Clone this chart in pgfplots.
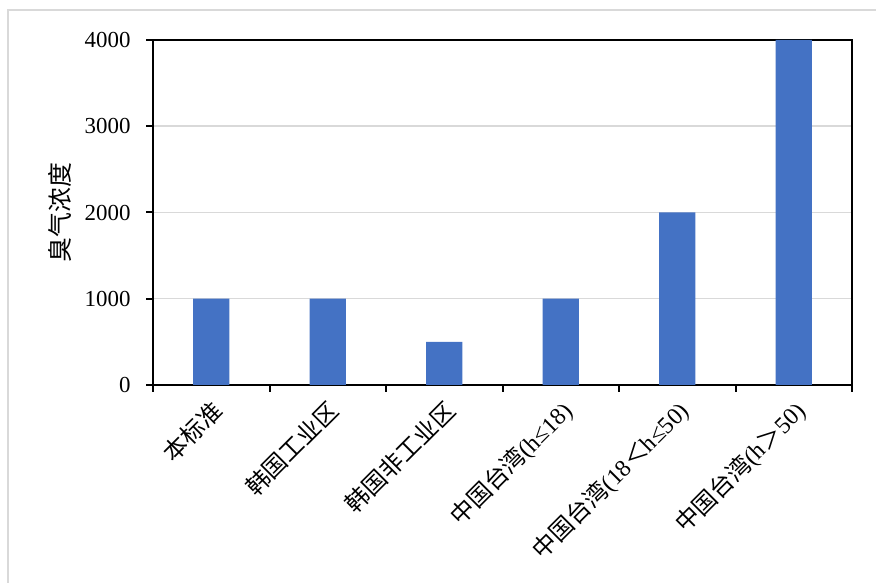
\documentclass[border=0pt]{standalone}
\usepackage{fontspec}
\setmainfont{Liberation Serif}
\newfontfamily\cjk{Noto Sans CJK SC}
\usepackage{pgfplots}
\pgfplotsset{compat=1.18}
\definecolor{barblue}{HTML}{4472C4}
\definecolor{gridgray}{HTML}{D9D9D9}

\begin{document}
\begin{tikzpicture}[x=1bp,y=1bp]
\path[use as bounding box] (0,0) rectangle (876,583);
% outer chart frame (cropped: only top and left edges visible)
\draw[gridgray, line width=2bp] (8,0) -- (8,573) -- (876,573);
\begin{axis}[
  at={(153bp,198bp)}, anchor=south west,
  scale only axis, width=699bp, height=345bp,
  ybar, bar width=0.31,
  enlargelimits=false,
  xmin=-0.5, xmax=5.5, ymin=0, ymax=4000,
  xtick={0,...,5},
  xticklabels={{\cjk 本标准},{\cjk 韩国工业区},{\cjk 韩国非工业区},
    {\cjk 中国台湾}(h≤18),{\cjk 中国台湾}(18{\cjk ＜}h≤50),{\cjk 中国台湾}(h{\cjk ＞}50)},
  minor xtick={-0.5,0.5,...,5.5},
  major x tick style={draw=none},
  ytick={0,1000,...,4000},
  ymajorgrids,
  grid style={gridgray, line width=1.5bp},
  tick align=outside,
  xtick pos=bottom, ytick pos=left,
  major tick length=7bp, minor tick length=7bp,
  tick style={black, line width=2bp},
  axis line style={black, line width=2bp},
  /pgf/number format/assume math mode=true,
  /pgf/number format/1000 sep={},
  yticklabel style={font=\fontsize{23}{27}\selectfont, xshift=-12bp},
  xticklabel style={font=\fontsize{24}{28}\selectfont, rotate=45, anchor=north east, xshift=-2bp},
  ylabel={\cjk 臭气浓度},
  every axis y label/.style={at={(axis description cs:-0.133,0.5)}, rotate=90, anchor=center,
    font=\fontsize{25}{28}\selectfont},
]
\addplot[fill=barblue, draw=none] coordinates {(0,1000) (1,1000) (2,500) (3,1000) (4,2000) (5,4000)};
\end{axis}
\end{tikzpicture}
\end{document}
